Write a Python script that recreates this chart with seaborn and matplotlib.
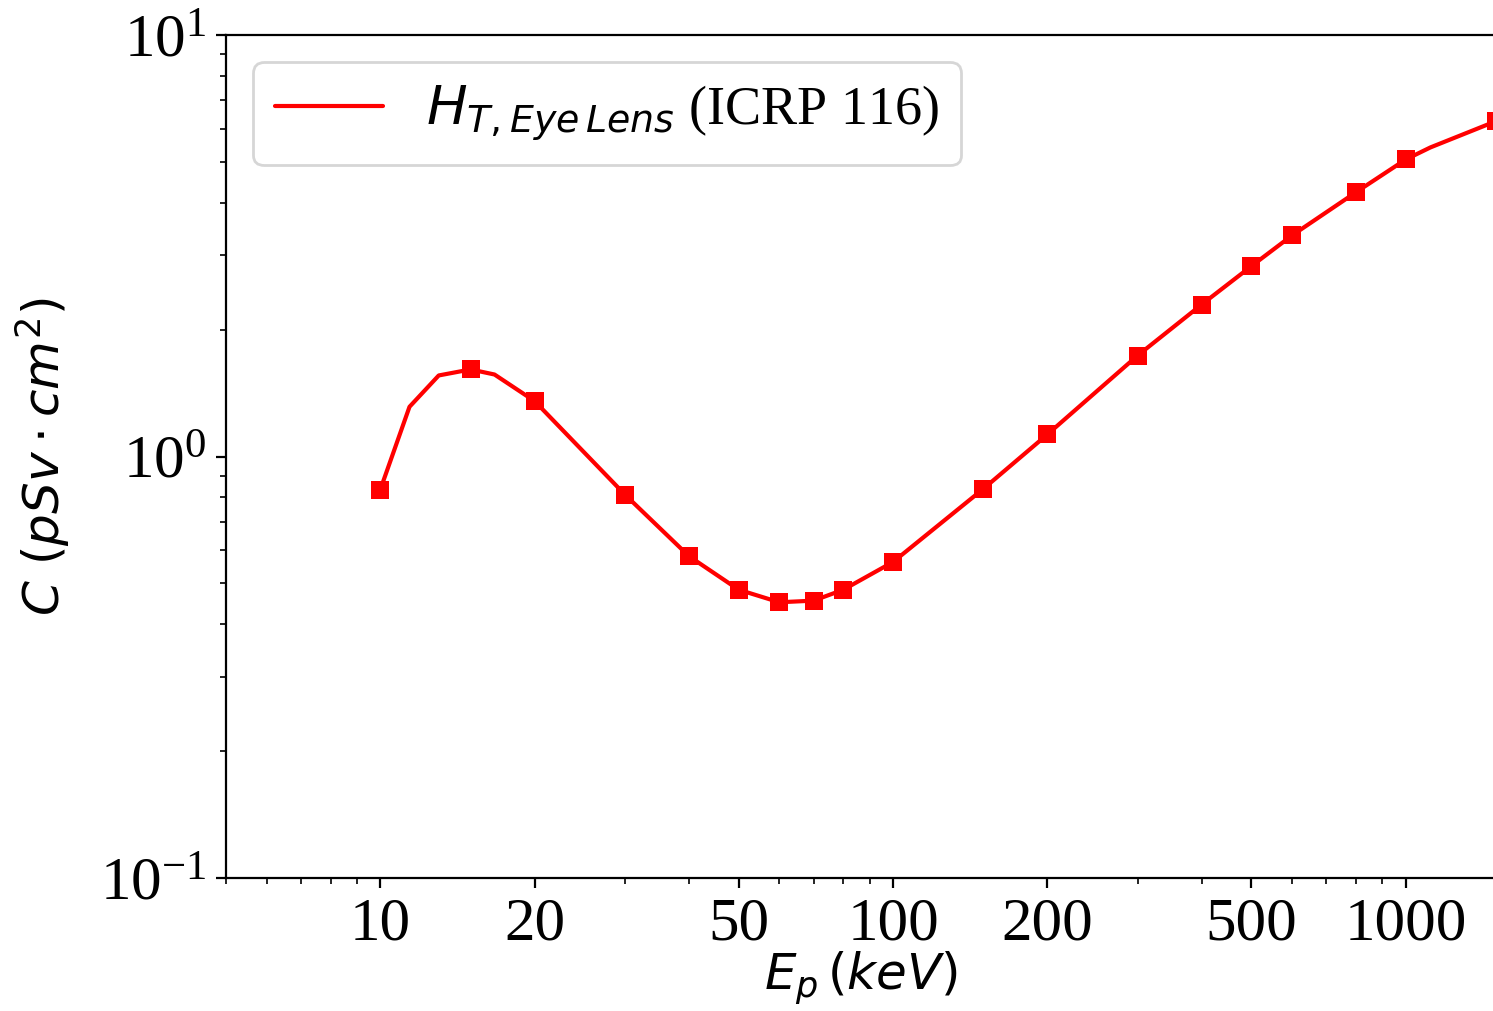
import numpy as np
import pandas as pd
import seaborn as sns
from matplotlib import pyplot as plt
from matplotlib.ticker import FixedLocator, LogLocator, NullFormatter, FixedFormatter

# ICRP 116 eye lens conversion coefficients
energy_marks = [10, 15, 20, 30, 40, 50, 60, 70, 80, 100, 150, 200, 300, 400, 500, 600, 800, 1000, 1500]
coef_marks = [0.835, 1.609, 1.353, 0.812, 0.580, 0.483, 0.451, 0.455, 0.483, 0.562,
              0.838, 1.128, 1.736, 2.294, 2.829, 3.345, 4.237, 5.066, 6.245]

# line goes through a few extra points
energy_line = [10, 11.4, 13, 15, 16.7, 20, 30, 40, 50, 60, 70, 80, 100, 150, 200, 300,
               400, 500, 600, 800, 1000, 1117, 1500]
coef_line = [0.835, 1.312, 1.557, 1.609, 1.565, 1.353, 0.812, 0.580, 0.483, 0.451, 0.455,
             0.483, 0.562, 0.838, 1.128, 1.736, 2.294, 2.829, 3.345, 4.237, 5.066, 5.41, 6.245]

xticks = [10, 20, 50, 100, 200, 500, 1000]
xticklabels = ['10', '20', '50', '100', '200', '500', '1000']

sns.set_style('ticks')
plt.rcParams['font.family'] = ['Liberation Serif', 'DejaVu Serif']
plt.rcParams['mathtext.fontset'] = 'dejavusans'
plt.rcParams['axes.linewidth'] = 0.8
plt.rcParams['axes.edgecolor'] = 'black'
plt.rcParams['text.color'] = 'black'
plt.rcParams['axes.labelcolor'] = 'black'
plt.rcParams['xtick.color'] = 'black'
plt.rcParams['ytick.color'] = 'black'

df_line = pd.DataFrame({'E': energy_line, 'C': coef_line})
df_mark = pd.DataFrame({'E': energy_marks, 'C': coef_marks})

fig = plt.figure(figsize=(1493/200, 1011/200), dpi=200)
ax = fig.add_axes([226/1493, 1-878/1011, 1 - 226/1493 + 0.002, (878-35)/1011])
ax.set_xscale('log')
ax.set_yscale('log')

sns.lineplot(data=df_line, x='E', y='C', color='red', lw=1.5, ax=ax,
             label=r'$H_{T,Eye\,Lens}$ (ICRP 116)')
sns.scatterplot(data=df_mark, x='E', y='C', color='red', marker='s', s=38,
                linewidth=0, ax=ax, legend=False, zorder=3)

ax.set_xlim(5, 1500)
ax.set_ylim(0.1, 10)

ax.xaxis.set_major_locator(FixedLocator(xticks))
ax.xaxis.set_major_formatter(FixedFormatter(xticklabels))
ax.xaxis.set_minor_locator(LogLocator(base=10, subs=np.arange(2, 10)))
ax.xaxis.set_minor_formatter(NullFormatter())

ax.tick_params(axis='both', which='major', labelsize=22, length=3.5, width=0.8, direction='out')
ax.tick_params(axis='both', which='minor', length=2, width=0.6, direction='out')

ax.set_xlabel(r'$E_p\,(keV)$', fontsize=18, labelpad=-1)
ax.set_ylabel(r'$C\ (pSv \cdot cm^2)$', fontsize=18, labelpad=10)

ax.legend(loc='upper left', fontsize=19.5, frameon=True)

fig.savefig('out.png', dpi=200)
